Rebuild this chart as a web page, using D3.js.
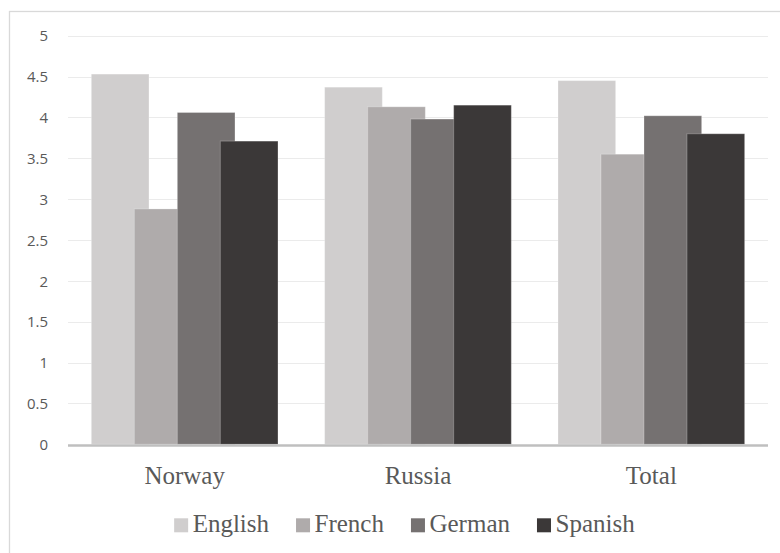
<!DOCTYPE html>
<html>
<head>
<meta charset="utf-8">
<script src="https://cdn.jsdelivr.net/npm/d3@7"></script>
<style>
  html, body { margin: 0; padding: 0; background: #fff; }
  svg { display: block; }
</style>
</head>
<body>
<svg id="chart" width="780" height="553"></svg>
<script>
const categories = ["Norway", "Russia", "Total"];
const seriesNames = ["English", "French", "German", "Spanish"];
const english = [4.53, 4.37, 4.45];
const french  = [2.88, 4.13, 3.55];
const german  = [4.06, 3.98, 4.02];
const spanish = [3.71, 4.15, 3.80];
const yTicks = [0, 0.5, 1, 1.5, 2, 2.5, 3, 3.5, 4, 4.5, 5];
const colors = ["#D0CECE", "#AFABAB", "#757171", "#3B3838"];

const seriesValues = [english, french, german, spanish];

const svg = d3.select("#chart");
const W = 780, H = 553;
const plot = { left: 68, right: 768, top: 35.7, bottom: 444.3 };

// chart frame (extends past the visible area on right/bottom)
svg.append("rect")
  .attr("x", 9.5).attr("y", 11.5)
  .attr("width", 820).attr("height", 620)
  .attr("fill", "none").attr("stroke", "#D9D9D9").attr("stroke-width", 1.3);

const y = d3.scaleLinear().domain([0, 5]).range([plot.bottom, plot.top]);
const x0 = d3.scaleBand().domain(categories).range([plot.left, plot.right]).padding(0);
const bw = x0.bandwidth();
const gapFrac = 0.1, stepFrac = 0.1843, widthFrac = 0.247;
const xs = d3.scalePoint().domain(seriesNames).range([0, 3 * stepFrac * bw]);
const barW = widthFrac * bw;

// gridlines
svg.append("g")
  .selectAll("line")
  .data(yTicks.filter(t => t > 0))
  .join("line")
  .attr("x1", plot.left).attr("x2", plot.right)
  .attr("y1", d => Math.round(y(d)) + 0.5).attr("y2", d => Math.round(y(d)) + 0.5)
  .attr("stroke", "#EBEBEB").attr("stroke-width", 1);

// y axis labels
const yAxis = d3.axisLeft(y).tickValues(yTicks).tickSize(0).tickPadding(0)
  .tickFormat(d => String(d));
const ya = svg.append("g").attr("transform", `translate(48,0)`).call(yAxis);
ya.select(".domain").remove();
ya.selectAll("text")
  .attr("font-family", "'Open Sans', sans-serif")
  .attr("font-size", 15)
  .attr("fill", "#595959")
  .attr("dy", "0.35em");

// bars
seriesNames.forEach((s, si) => {
  svg.append("g")
    .selectAll("rect")
    .data(categories.map((c, ci) => ({ c, v: seriesValues[si][ci] })))
    .join("rect")
    .attr("x", d => x0(d.c) + gapFrac * bw + xs(s))
    .attr("y", d => y(d.v))
    .attr("width", barW)
    .attr("height", d => y(0) - y(d.v))
    .attr("fill", colors[si])
    .attr("stroke", "#ffffff").attr("stroke-opacity", 0.25).attr("stroke-width", 1);
});

// x axis line
svg.append("line")
  .attr("x1", plot.left).attr("x2", plot.right)
  .attr("y1", plot.bottom + 1.2).attr("y2", plot.bottom + 1.2)
  .attr("stroke", "#BFBFBF").attr("stroke-width", 2.6);

// category labels
const xAxis = d3.axisBottom(x0).tickSize(0).tickPadding(0);
const xa = svg.append("g").attr("transform", `translate(0,0)`).call(xAxis);
xa.select(".domain").remove();
xa.selectAll("text")
  .attr("y", 484.3).attr("dy", 0)
  .attr("font-family", "'Liberation Serif', 'Times New Roman', serif")
  .attr("font-size", 25)
  .attr("fill", "#595959");

// legend
const legend = svg.append("g");
const fontL = "25px 'Liberation Serif', 'Times New Roman', serif";
const ctx = document.createElement("canvas").getContext("2d");
ctx.font = fontL;
const sq = 14, gapSqText = 4.5, gapItem = 27;
const widths = seriesNames.map(n => sq + gapSqText + ctx.measureText(n).width);
const total = d3.sum(widths) + gapItem * (seriesNames.length - 1);
let lx = 404.4 - total / 2;
seriesNames.forEach((n, i) => {
  const g = legend.append("g").attr("transform", `translate(${lx},0)`);
  g.append("rect").attr("x", 0).attr("y", 518.3).attr("width", sq).attr("height", sq).attr("fill", colors[i]);
  g.append("text").attr("x", sq + gapSqText).attr("y", 532.4)
    .attr("font-family", "'Liberation Serif', 'Times New Roman', serif")
    .attr("font-size", 25).attr("fill", "#595959").text(n);
  lx += widths[i] + gapItem;
});
</script>
</body>
</html>
